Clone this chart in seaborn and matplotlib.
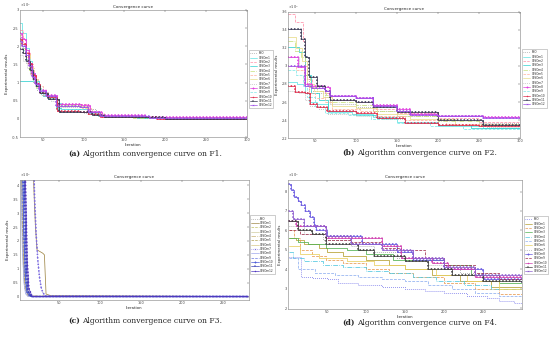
import numpy as np
import pandas as pd
import matplotlib
matplotlib.use("Agg")
import matplotlib.pyplot as plt
from matplotlib.lines import Line2D
import seaborn as sns

names = ["PSO"] + [f"CPSOm{i}" for i in range(1, 13)]

# F1: breakpoints (iteration, value x1e4)
f1_x = [
    [22, 26, 30, 34, 38, 43, 48, 58, 68, 95, 115, 160, 210, 300],
    [22, 25, 29, 33, 37, 41, 46, 55, 66, 72, 96, 105, 120, 170, 300],
    [22, 26, 30, 34, 38, 42, 47, 56, 68, 97, 106, 120, 170, 300],
    [22, 46, 50, 56, 66, 72, 96, 106, 118, 165, 300],
    [22, 25, 29, 33, 38, 42, 47, 57, 68, 96, 106, 118, 160, 300],
    [22, 26, 30, 35, 39, 44, 50, 58, 70, 98, 110, 125, 200, 300],
    [22, 25, 29, 34, 38, 43, 48, 56, 66, 94, 104, 120, 180, 300],
    [22, 26, 31, 35, 40, 45, 50, 60, 70, 100, 112, 130, 300],
    [22, 25, 29, 33, 37, 41, 46, 54, 67, 97, 108, 122, 175, 300],
    [22, 26, 30, 34, 38, 43, 48, 56, 68, 95, 105, 118, 180, 300],
    [22, 25, 29, 33, 37, 42, 47, 55, 67, 96, 106, 120, 190, 300],
    [22, 26, 30, 34, 38, 42, 47, 57, 70, 100, 110, 125, 200, 300],
    [22, 25, 29, 33, 37, 41, 46, 54, 66, 96, 106, 120, 180, 300],
]
f1_y = [
    [1.95, 1.8, 1.55, 1.25, 1.0, 0.8, 0.66, 0.55, 0.33, 0.28, 0.1, 0.06, 0.02, 0.02],
    [2.63, 2.35, 1.95, 1.6, 1.25, 1.0, 0.75, 0.6, 0.45, 0.35, 0.32, 0.2, 0.08, 0.03, 0.03],
    [2.44, 2.2, 1.85, 1.5, 1.2, 0.95, 0.75, 0.62, 0.42, 0.4, 0.22, 0.08, 0.04, 0.04],
    [1.05, 0.75, 0.62, 0.56, 0.3, 0.28, 0.27, 0.15, 0.07, 0.02, 0.02],
    [2.1, 1.95, 1.7, 1.35, 1.05, 0.85, 0.7, 0.58, 0.38, 0.34, 0.18, 0.08, 0.03, 0.03],
    [2.3, 2.1, 1.8, 1.4, 1.1, 0.9, 0.65, 0.55, 0.36, 0.3, 0.15, 0.06, 0.0, 0.0],
    [2.2, 2.0, 1.75, 1.4, 1.1, 0.85, 0.7, 0.58, 0.4, 0.36, 0.2, 0.09, 0.04, 0.04],
    [1.75, 1.6, 1.4, 1.2, 0.95, 0.8, 0.62, 0.5, 0.2, 0.17, 0.1, 0.05, 0.05],
    [2.35, 2.2, 1.9, 1.55, 1.25, 1.0, 0.8, 0.65, 0.4, 0.38, 0.2, 0.1, 0.04, 0.04],
    [2.05, 1.9, 1.65, 1.35, 1.05, 0.85, 0.68, 0.58, 0.28, 0.26, 0.15, 0.07, 0.02, 0.02],
    [2.2, 2.05, 1.8, 1.5, 1.2, 0.95, 0.72, 0.6, 0.22, 0.2, 0.12, 0.06, 0.0, 0.0],
    [1.93, 1.8, 1.6, 1.35, 1.1, 0.9, 0.7, 0.55, 0.2, 0.18, 0.1, 0.05, 0.0, 0.0],
    [2.15, 2.0, 1.75, 1.45, 1.15, 0.95, 0.78, 0.63, 0.36, 0.33, 0.18, 0.08, 0.01, 0.01],
]

# F2
f2_x = [
    [17, 30, 36, 42, 52, 62, 68, 100, 120, 150, 200, 250, 300],
    [17, 28, 37, 42, 52, 65, 95, 120, 150, 200, 255, 300],
    [17, 25, 35, 37, 40, 46, 62, 68, 100, 120, 150, 200, 250, 300],
    [17, 30, 37, 45, 55, 65, 100, 125, 160, 200, 240, 300],
    [17, 25, 33, 38, 44, 52, 63, 68, 100, 120, 150, 200, 250, 300],
    [17, 27, 36, 42, 50, 62, 70, 105, 125, 160, 210, 300],
    [17, 26, 34, 40, 48, 60, 70, 100, 125, 165, 220, 300],
    [17, 30, 37, 44, 55, 66, 100, 130, 160, 200, 260, 300],
    [17, 29, 37, 41, 46, 62, 68, 100, 120, 150, 165, 200, 255, 300],
    [17, 26, 35, 40, 50, 62, 90, 118, 150, 190, 230, 300],
    [17, 25, 37, 44, 52, 64, 100, 125, 160, 200, 250, 300],
    [17, 29, 33, 37, 42, 52, 62, 68, 100, 120, 150, 200, 255, 300],
    [17, 37, 45, 62, 68, 100, 120, 150, 165, 200, 255, 300],
]
f2_y = [
    [3.1, 3.0, 2.85, 2.72, 2.7, 2.66, 2.58, 2.55, 2.5, 2.45, 2.4, 2.37, 2.37],
    [2.82, 2.8, 2.7, 2.6, 2.58, 2.49, 2.47, 2.43, 2.38, 2.33, 2.31, 2.31],
    [3.58, 3.49, 3.28, 3.0, 2.85, 2.75, 2.7, 2.62, 2.6, 2.52, 2.48, 2.42, 2.38, 2.38],
    [3.21, 3.15, 2.9, 2.7, 2.62, 2.5, 2.46, 2.42, 2.37, 2.34, 2.31, 2.31],
    [3.28, 3.17, 3.1, 2.9, 2.77, 2.72, 2.68, 2.6, 2.57, 2.5, 2.44, 2.39, 2.36, 2.36],
    [3.0, 2.95, 2.8, 2.7, 2.64, 2.6, 2.52, 2.5, 2.45, 2.4, 2.36, 2.36],
    [3.32, 3.2, 3.05, 2.8, 2.72, 2.66, 2.56, 2.53, 2.47, 2.41, 2.35, 2.35],
    [2.72, 2.7, 2.62, 2.56, 2.52, 2.47, 2.45, 2.41, 2.37, 2.34, 2.32, 2.32],
    [3.1, 2.99, 2.8, 2.8, 2.78, 2.77, 2.67, 2.64, 2.57, 2.52, 2.47, 2.45, 2.43, 2.43],
    [2.95, 2.9, 2.78, 2.65, 2.55, 2.48, 2.46, 2.41, 2.37, 2.33, 2.30, 2.30],
    [2.78, 2.71, 2.7, 2.58, 2.55, 2.5, 2.48, 2.42, 2.37, 2.34, 2.33, 2.33],
    [3.41, 3.41, 3.3, 3.1, 2.88, 2.78, 2.72, 2.62, 2.6, 2.55, 2.49, 2.4, 2.35, 2.35],
    [3.0, 2.78, 2.76, 2.72, 2.67, 2.64, 2.56, 2.5, 2.46, 2.44, 2.42, 2.42],
]

# F3
f3_x = [
    [2, 4, 6, 8, 11, 14, 280],
    [2, 18, 19, 20, 21, 22, 23, 30, 32, 34, 40, 280],
    [2, 4, 6, 8, 10, 13, 280],
    [2, 5, 7, 9, 12, 16, 280],
    [2, 3, 5, 7, 9, 12, 280],
    [2, 4, 6, 8, 11, 15, 280],
    [2, 6, 8, 10, 13, 18, 280],
    [2, 16, 18, 20, 22, 24, 26, 28, 30, 33, 280],
    [2, 3, 5, 7, 9, 12, 280],
    [2, 4, 6, 8, 10, 14, 280],
    [2, 5, 7, 9, 11, 15, 280],
    [2, 6, 8, 10, 12, 16, 280],
    [2, 7, 9, 11, 13, 17, 280],
]
f3_y = [
    [10, 4.5, 1.2, 0.3, 0.08, 0.0, 0.0],
    [10, 6, 4.0, 3.2, 2.56, 2.1, 1.68, 1.56, 1.5, 0.09, 0.03, 0.0],
    [10, 5, 2, 0.6, 0.15, 0.0, 0.0],
    [10, 3.5, 1.0, 0.4, 0.1, 0.0, 0.0],
    [10, 6, 2.5, 0.8, 0.2, 0.02, 0.0],
    [10, 4, 1.5, 0.5, 0.12, 0.01, 0.0],
    [10, 3.0, 1.2, 0.4, 0.1, 0.0, 0.0],
    [10, 10, 6, 3.6, 2.2, 1.3, 0.7, 0.33, 0.15, 0.02, 0.0],
    [10, 5, 1.8, 0.5, 0.1, 0.0, 0.0],
    [10, 7, 3.0, 0.9, 0.2, 0.0, 0.0],
    [10, 6, 2.4, 0.7, 0.15, 0.0, 0.0],
    [10, 8, 3.5, 1.0, 0.2, 0.0, 0.0],
    [10, 9, 4.0, 1.3, 0.3, 0.0, 0.0],
]

# F4
f4_x = [
    [1, 9, 16, 30, 50, 64, 90, 120, 150, 175, 200, 230, 255, 270, 290, 300],
    [1, 10, 20, 40, 50, 70, 100, 130, 150, 185, 220, 260, 300],
    [1, 8, 15, 30, 48, 70, 100, 130, 160, 200, 240, 270, 300],
    [1, 12, 25, 48, 75, 100, 135, 160, 200, 235, 270, 300],
    [1, 6, 20, 45, 70, 100, 130, 160, 190, 225, 260, 300],
    [1, 12, 35, 60, 90, 120, 150, 180, 210, 240, 270, 300],
    [1, 15, 40, 75, 110, 150, 190, 230, 270, 300],
    [1, 20, 45, 80, 110, 140, 180, 220, 260, 300],
    [1, 4, 8, 13, 17, 22, 28, 33, 36, 50, 95, 140, 160, 200, 250, 300],
    [1, 15, 48, 80, 120, 145, 175, 200, 240, 270, 300],
    [1, 10, 48, 120, 145, 184, 205, 240, 300],
    [1, 12, 30, 48, 90, 110, 150, 180, 210, 250, 300],
    [1, 6, 20, 48, 80, 120, 160, 200, 240, 300],
]
f4_y = [
    [4.65, 4.65, 3.6, 3.55, 3.5, 3.3, 3.2, 3.1, 3.0, 2.9, 2.8, 2.6, 2.5, 2.35, 2.25, 2.2],
    [5.6, 5.5, 5.3, 5.1, 4.9, 4.7, 4.5, 4.2, 4.0, 3.7, 3.4, 3.1, 3.0],
    [6.0, 5.6, 5.0, 4.7, 4.5, 4.3, 4.0, 3.8, 3.6, 3.3, 3.0, 2.7, 2.6],
    [5.6, 5.4, 5.3, 5.1, 5.0, 4.8, 4.5, 4.5, 4.2, 3.7, 3.3, 3.2],
    [4.9, 4.6, 4.4, 4.2, 4.1, 3.9, 3.8, 3.6, 3.4, 3.2, 3.0, 2.9],
    [4.6, 4.0, 3.8, 3.7, 3.6, 3.5, 3.4, 3.2, 3.0, 2.8, 2.6, 2.5],
    [5.2, 4.8, 4.6, 4.4, 4.2, 4.0, 3.7, 3.4, 3.0, 2.9],
    [6.2, 5.8, 5.5, 5.2, 4.9, 4.6, 4.2, 3.8, 3.5, 3.4],
    [8.4, 8.1, 7.7, 7.5, 7.3, 7.0, 6.7, 6.3, 6.0, 5.7, 5.3, 4.9, 4.5, 4.0, 3.5, 3.3],
    [6.0, 5.8, 5.5, 5.4, 5.1, 5.0, 4.6, 4.2, 3.8, 3.5, 3.4],
    [6.5, 6.2, 5.6, 5.2, 4.6, 4.3, 4.0, 3.6, 3.55],
    [6.5, 6.0, 5.8, 5.3, 5.0, 4.7, 4.4, 4.0, 3.7, 3.4, 3.35],
    [7.0, 6.6, 6.2, 5.7, 5.3, 5.0, 4.6, 4.1, 3.7, 3.45],
]

colors_ab = ["#8c8c8c", "#5fe3e3", "#ff8fa8", "#2fd0d0", "#c6e07a", "#ffb09a", "#e8dc8a",
             "#a8a8a8", "#e040e0", "#7fe8e8", "#e0304f", "#3a3a55", "#a050e8"]
colors_c = ["#8c8c8c", "#a08848", "#c0c060", "#d0cca0", "#c8b070", "#b0a050", "#d8c888",
            "#7c6ce0", "#a0a8ec", "#6a78e0", "#4a5ad8", "#3a42b8", "#5038c0"]
colors_d = ["#5a5ae6", "#b5a030", "#e89a50", "#50b050", "#50c8e0", "#90b0f0", "#e8d060",
            "#909090", "#6a5ae0", "#a03050", "#d040b0", "#404040", "#9060d0"]
styles = [":", "-", "--", "-", "-.", "--", "-", ":", "-", "--", "-", "-", "-"]
marks = {8: "o", 10: "*", 11: "+", 12: "x"}
marks_c = {7: "x", 10: "o", 11: "+", 12: "*"}

sns.set_style("white")
plt.rcParams["font.family"] = ["DejaVu Sans"]

fig = plt.figure(figsize=(5.5, 3.4), dpi=100)


def panel(rect, xs, ys, colors, mk, xlim, ylim, xticks, yticks, leg_top, steps=True):
    ax = fig.add_axes(rect)
    for i, name in enumerate(names):
        df = pd.DataFrame({"Iteration": xs[i], "value": ys[i]})
        kw = {"drawstyle": "steps-post"} if steps else {}
        sns.lineplot(data=df, x="Iteration", y="value", ax=ax, color=colors[i],
                     linestyle=styles[i], linewidth=0.55, estimator=None,
                     errorbar=None, legend=False, sort=False, **kw)
        if i in mk:
            sns.lineplot(data=df, x="Iteration", y="value", ax=ax, color=colors[i],
                         linestyle=(0, (0.05, 1.8)), linewidth=1.3,
                         dash_capstyle="round", estimator=None, errorbar=None,
                         legend=False, sort=False, **kw)
    ax.set_xlim(*xlim)
    ax.set_ylim(*ylim)
    ax.set_xticks(xticks)
    ax.set_yticks(yticks)
    ax.set_yticklabels([f"{t:g}" for t in yticks])
    ax.tick_params(direction="in", top=True, right=True, length=1.5, width=0.3,
                   labelsize=2.5, pad=0.8, colors="#444444")
    for s in ax.spines.values():
        s.set_color("#808080")
        s.set_linewidth(0.4)
    ax.set_title("Convergence curve", fontsize=3, pad=1.5)
    ax.set_xlabel("Iteration", fontsize=2.8, labelpad=0.5)
    ax.set_ylabel("Experimental results", fontsize=2.8, labelpad=2)
    ax.text(0.0, 1.004, r"$\times10^{4}$", transform=ax.transAxes, fontsize=2.5,
            ha="left", va="bottom", color="#444444")
    handles = [Line2D([], [], color=colors[i], linestyle=styles[i], linewidth=0.5,
                      marker=mk.get(i, None), markersize=1.0, markeredgewidth=0.3)
               for i in range(len(names))]
    leg = ax.legend(handles, names, loc="upper left", bbox_to_anchor=(1.004, leg_top),
                    fontsize=2.0, handlelength=2.6, labelspacing=0.12, borderpad=0.4,
                    handletextpad=0.5, borderaxespad=0.3, frameon=True, fancybox=False)
    leg.get_frame().set_edgecolor("#909090")
    leg.get_frame().set_linewidth(0.4)
    return ax


panel([0.036, 0.597, 0.413, 0.374], f1_x, f1_y, colors_ab, marks, (22, 300), (-0.5, 3.0),
      [50, 100, 150, 200, 250, 300], [-0.5, 0, 0.5, 1, 1.5, 2, 2.5, 3], 0.69)
panel([0.524, 0.594, 0.422, 0.371], f2_x, f2_y, colors_ab, marks, (17, 300), (2.2, 3.6),
      [50, 100, 150, 200, 250, 300], [2.2, 2.4, 2.6, 2.8, 3, 3.2, 3.4, 3.6], 0.71)
panel([0.036, 0.118, 0.416, 0.353], f3_x, f3_y, colors_c, marks_c, (2, 281), (-0.12, 4.2),
      [50, 100, 150, 200, 250], [0, 0.5, 1, 1.5, 2, 2.5, 3, 3.5, 4], 0.71, steps=False)
panel([0.524, 0.091, 0.425, 0.38], f4_x, f4_y, colors_d, marks, (0, 300), (1.95, 8.6),
      [50, 100, 150, 200, 250], [2, 3, 4, 5, 6, 7, 8], 0.725)

captions = [("(a)", "Algorithm convergence curve on F1.", 80, 0.547),
            ("(b)", "Algorithm convergence curve on F2.", 355, 0.551),
            ("(c)", "Algorithm convergence curve on F3.", 80, 0.056),
            ("(d)", "Algorithm convergence curve on F4.", 355, 0.050)]
for tag, txt, xp, yp in captions:
    fig.text(xp / 550, yp, tag, ha="right", va="center", fontsize=5.5,
             fontweight="bold", family="DejaVu Serif")
    fig.text((xp + 2.5) / 550, yp, txt, ha="left", va="center", fontsize=5.5,
             family="DejaVu Serif")

fig.savefig("out.png", dpi=100)
